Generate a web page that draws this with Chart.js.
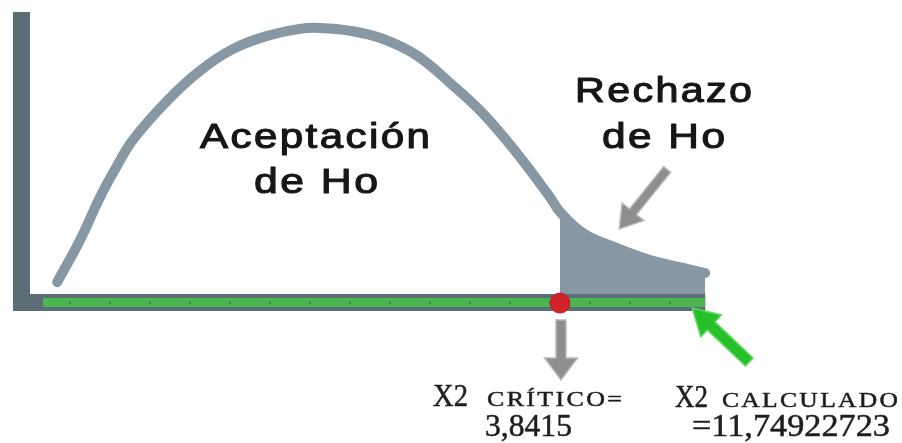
<!DOCTYPE html>
<html>
<head>
<meta charset="utf-8">
<script src="https://cdn.jsdelivr.net/npm/chart.js@4"></script>
<style>
  html, body { margin: 0; padding: 0; background: #fff; }
  #wrap { width: 902px; height: 443px; position: relative; }
</style>
</head>
<body>
<div id="wrap"><canvas id="chi"></canvas></div>
<script>
// curve (x in axis tick units, y in height units)
const curveX = [0.68, 1.25, 1.75, 2.18, 2.58, 3.43, 4.25, 5.08, 5.93, 6.75, 7.25, 8.0, 8.83, 9.68, 10.5, 11.33, 12.18, 13.0, 13.25, 13.83, 14.68, 15.5, 16.33, 16.88];
const curveY = [0.42, 1.90, 3.42, 4.54, 5.46, 6.83, 7.89, 8.66, 9.12, 9.37, 9.40, 9.30, 9.01, 8.42, 7.46, 6.37, 4.96, 3.42, 2.90, 2.15, 1.62, 1.20, 0.92, 0.74];
const criticalX = 13.25;   // X2 crítico on the axis
const calculatedX = 16.88; // X2 calculado on the axis
const regionLabels = [['Aceptación', 'de Ho'], ['Rechazo', 'de Ho']];
const valueLabels = [['X2', 'CRÍTICO=', '3,8415'], ['X2', 'CALCULADO', '=11,74922723']];

const curvePoints = curveX.map((x, i) => ({ x: x, y: curveY[i] }));
const rejectPoints = curvePoints.filter(p => p.x >= criticalX);

const GREY = '#8798a4';
const AXIS = '#5b6d75';

// draws text between left and right: a little letter spacing, the rest by stretching
function fitText(ctx, text, left, right, baseline, font, spacing, bold) {
    ctx.font = font;
    ctx.letterSpacing = (spacing || 0) + 'px';
    ctx.textAlign = 'left';
    const w = ctx.measureText(text).width - (spacing || 0);
    const sx = (right - left) / w;
    ctx.save();
    ctx.translate(left, baseline);
    ctx.scale(sx, 1);
    ctx.fillText(text, 0, 0);
    if (bold) {
        ctx.lineWidth = bold;
        ctx.lineJoin = 'round';
        ctx.strokeStyle = ctx.fillStyle;
        ctx.strokeText(text, 0, 0);
    }
    ctx.restore();
    ctx.letterSpacing = '0px';
}

function arrow(ctx, x1, y1, x2, y2, shaftW, headW, headL, color, edge) {
    const ang = Math.atan2(y2 - y1, x2 - x1);
    const len = Math.hypot(x2 - x1, y2 - y1);
    ctx.save();
    ctx.translate(x1, y1);
    ctx.rotate(ang);
    ctx.beginPath();
    ctx.moveTo(0, -shaftW / 2);
    ctx.lineTo(len - headL, -shaftW / 2);
    ctx.lineTo(len - headL, -headW / 2);
    ctx.lineTo(len, 0);
    ctx.lineTo(len - headL, headW / 2);
    ctx.lineTo(len - headL, shaftW / 2);
    ctx.lineTo(0, shaftW / 2);
    ctx.closePath();
    ctx.fillStyle = color;
    ctx.fill();
    if (edge) {
        ctx.strokeStyle = edge;
        ctx.lineWidth = 1.5;
        ctx.stroke();
    }
    ctx.restore();
}

const decor = {
    id: 'decor',
    beforeDatasetsDraw(chart) {
        const ctx = chart.ctx;
        const xs = chart.scales.x, ys = chart.scales.y;
        const x0 = xs.getPixelForValue(0);
        const y0 = ys.getPixelForValue(0);
        const xEnd = xs.getPixelForValue(calculatedX);
        ctx.save();
        // vertical axis bar
        ctx.fillStyle = AXIS;
        ctx.fillRect(x0 - 17, ys.getPixelForValue(10) + 1, 17, y0 - ys.getPixelForValue(10) + 16);
        // horizontal axis bar with green band
        ctx.fillRect(x0 - 17, y0, xEnd - x0 + 17, 17);
        ctx.fillStyle = '#4cb651';
        ctx.fillRect(x0 + 13, y0 + 4, xEnd - x0 - 13, 9);
        ctx.fillStyle = 'rgba(40,90,60,0.55)';
        for (let i = 1; i <= 16; i++) {
            ctx.fillRect(xs.getPixelForValue(i) - 1, y0 + 7, 2, 3);
        }
        ctx.restore();
    },
    afterDraw(chart) {
        const ctx = chart.ctx;
        const xs = chart.scales.x, ys = chart.scales.y;
        const y0 = ys.getPixelForValue(0);
        const xc = xs.getPixelForValue(criticalX);
        const xe = xs.getPixelForValue(calculatedX);
        ctx.save();
        // arrows
        arrow(ctx, xc + 1, y0 + 26, xc + 1, y0 + 86, 10, 33, 22, '#8e8e8e', '#b9b9b9');
        arrow(ctx, xe - 38, ys.getPixelForValue(4.4), xe - 86, ys.getPixelForValue(2.3), 9, 28, 22, '#8e8e8e', '#b9b9b9');
        arrow(ctx, xe + 44, y0 + 68, xe - 13, y0 + 14, 11, 30, 26, '#27c02a', '#5ed85e');

        // region labels
        ctx.fillStyle = '#161616';
        const sans = '35px "Liberation Sans"';
        fitText(ctx, regionLabels[0][0], 200, 430, 148, sans, 2, 1.1);
        fitText(ctx, regionLabels[0][1], 254, 378, 193, sans, 2, 1.1);
        fitText(ctx, regionLabels[1][0], 575, 752, 102, sans, 2, 1.1);
        fitText(ctx, regionLabels[1][1], 602, 725, 148, sans, 2, 1.1);

        // value labels
        ctx.fillStyle = '#1e1e1e';
        const big = '31px "Liberation Serif"';
        const small = '22px "Liberation Serif"';
        const digits = '32px "Liberation Serif"';
        fitText(ctx, valueLabels[0][0], 433, 468, 406, big, 0, 0.5);
        fitText(ctx, valueLabels[0][1], 487, 622, 406, small, 2, 0.5);
        fitText(ctx, valueLabels[0][2], 485, 572, 436, digits, 0, 0.5);
        fitText(ctx, valueLabels[1][0], 675, 708, 407, big, 0, 0.5);
        fitText(ctx, valueLabels[1][1], 722, 898, 407, small, 2, 0.5);
        fitText(ctx, valueLabels[1][2], 692, 890, 436, digits, 0, 0.5);
        ctx.restore();
    }
};

new Chart(document.getElementById('chi'), {
    type: 'line',
    data: {
        datasets: [
            {
                // critical value marker
                data: [{ x: criticalX, y: -0.32 }],
                showLine: false,
                pointRadius: 10,
                pointBackgroundColor: '#d1232b',
                pointBorderColor: '#c0202a',
                pointBorderWidth: 1,
                clip: false,
                order: 0
            },
            {
                data: curvePoints,
                borderColor: GREY,
                borderWidth: 10,
                borderCapStyle: 'round',
                tension: 0.4,
                pointRadius: 0,
                fill: false,
                clip: false,
                order: 1
            },
            {
                data: rejectPoints,
                borderWidth: 0,
                backgroundColor: GREY,
                tension: 0.4,
                pointRadius: 0,
                fill: 'origin',
                order: 2
            }
        ]
    },
    options: {
        responsive: true,
        maintainAspectRatio: false,
        animation: false,
        layout: { padding: { left: 30, right: 12, top: 10, bottom: 149 } },
        scales: {
            x: { type: 'linear', min: 0, max: 21.5, display: false },
            y: { min: 0, max: 10, display: false }
        },
        plugins: {
            legend: { display: false },
            tooltip: { enabled: false }
        }
    },
    plugins: [decor]
});
</script>
</body>
</html>
